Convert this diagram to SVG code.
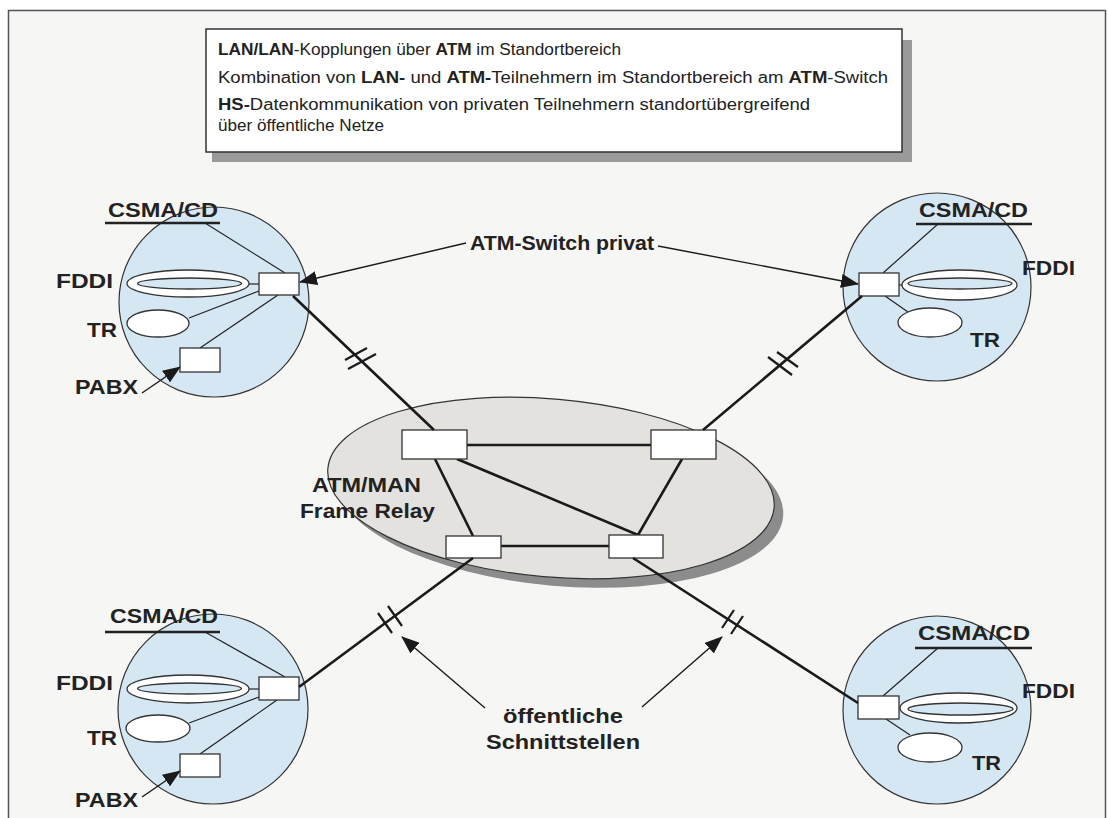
<svg xmlns="http://www.w3.org/2000/svg" width="1108" height="818" viewBox="0 0 1108 818">
<style>
.bg{fill:#f6f6f4}
.frame{fill:none;stroke:#555;stroke-width:1.5}
.site{fill:#d6e7f4;stroke:#333;stroke-width:1.2}
.thin{stroke:#222;stroke-width:1.2;fill:none}
.wbox{fill:#fff;stroke:#333;stroke-width:1.3}
.ringo{fill:#fff;stroke:#333;stroke-width:1.3}
.ringi{fill:#d6e7f4;stroke:#333;stroke-width:1.3}
.ul{stroke:#222;stroke-width:2.4}
.thick{stroke:#1a1a1a;stroke-width:2.6;fill:none}
.hash{stroke:#1a1a1a;stroke-width:2.2}
.arr{stroke:#1a1a1a;stroke-width:1.4;fill:none;marker-end:url(#ah)}
.lbl{font-family:"Liberation Sans",Arial,sans-serif;font-weight:bold;font-size:20px;fill:#222}
.box{font-family:"Liberation Sans",Arial,sans-serif;font-size:16px;fill:#222}
.b{font-weight:bold}
</style>
<defs>
<marker id="ah" markerUnits="userSpaceOnUse" markerWidth="18" markerHeight="14" viewBox="0 0 18 14" refX="17" refY="7" orient="auto">
<path d="M0,0 L18,7 L0,14 z" fill="#1a1a1a"/>
</marker>
</defs>
<rect x="0" y="0" width="1108" height="818" fill="#fff"/>
<rect class="bg" x="8" y="10" width="1098" height="830"/>
<rect class="frame" x="8.5" y="10.5" width="1097" height="830"/>

<g id="legend">
<rect x="212" y="40" width="700" height="122" fill="#9a9a9a"/>
<rect x="206" y="29" width="696" height="123" fill="#fff" stroke="#333" stroke-width="1.5"/>
<text class="box" x="218" y="54.5" textLength="403" lengthAdjust="spacingAndGlyphs"><tspan class="b">LAN/LAN</tspan>-Kopplungen über <tspan class="b">ATM</tspan> im Standortbereich</text>
<text class="box" x="218" y="82.5" textLength="670" lengthAdjust="spacingAndGlyphs">Kombination von <tspan class="b">LAN-</tspan> und <tspan class="b">ATM-</tspan>Teilnehmern im Standortbereich am <tspan class="b">ATM</tspan>-Switch</text>
<text class="box" x="218" y="110" textLength="592" lengthAdjust="spacingAndGlyphs"><tspan class="b">HS-</tspan>Datenkommunikation von privaten Teilnehmern standortübergreifend</text>
<text class="box" x="218" y="131" textLength="166" lengthAdjust="spacingAndGlyphs">über öffentliche Netze</text>
</g>

<g id="atm-man">
<ellipse cx="560" cy="497" rx="224" ry="89" fill="#8c8c8c" transform="rotate(5 560 497)"/>
<ellipse cx="551" cy="488" rx="224" ry="89" fill="#e4e2df" stroke="#333" stroke-width="1.2" transform="rotate(5 551 488)"/>
<text class="lbl" x="312" y="492" textLength="109" lengthAdjust="spacingAndGlyphs">ATM/MAN</text>
<text class="lbl" x="300" y="518" textLength="135" lengthAdjust="spacingAndGlyphs">Frame Relay</text>
<line class="thick" x1="467" y1="445" x2="651" y2="445"/>
<line class="thick" x1="501" y1="546" x2="609" y2="546"/>
<line class="thick" x1="435" y1="459" x2="473" y2="536"/>
<line class="thick" x1="457" y1="459" x2="638" y2="535"/>
<line class="thick" x1="682" y1="459" x2="638" y2="535"/>
<rect id="sw-a" class="wbox" x="402" y="430" width="65" height="29"/>
<rect id="sw-b" class="wbox" x="651" y="430" width="65" height="29"/>
<rect id="sw-c" class="wbox" x="446" y="536" width="55" height="22"/>
<rect id="sw-d" class="wbox" x="609" y="535" width="54" height="23"/>
</g>

<g id="site-tl">
<circle class="site" cx="214" cy="302" r="95"/>
<line class="ul" x1="105" y1="223" x2="220" y2="223"/>
<text class="lbl" x="108" y="217" textLength="110" lengthAdjust="spacingAndGlyphs">CSMA/CD</text>
<line class="thin" x1="205" y1="223" x2="285" y2="273"/>
<line class="thin" x1="249" y1="284" x2="259" y2="284"/>
<line class="thin" x1="189" y1="318" x2="259" y2="291"/>
<line class="thin" x1="200" y1="348" x2="278" y2="295"/>
<ellipse class="ringo" cx="188" cy="283.5" rx="61" ry="13.5"/>
<ellipse class="ringi" cx="189.5" cy="283.5" rx="52" ry="5.5"/>
<ellipse class="ringo" cx="158" cy="323.5" rx="31" ry="13.5"/>
<rect class="wbox" x="180" y="348" width="40" height="24"/>
<rect class="wbox" x="259" y="273" width="40" height="22"/>
<text class="lbl" x="56" y="288" textLength="57" lengthAdjust="spacingAndGlyphs">FDDI</text>
<text class="lbl" x="87" y="337" textLength="30" lengthAdjust="spacingAndGlyphs">TR</text>
<text class="lbl" x="75" y="394" textLength="63" lengthAdjust="spacingAndGlyphs">PABX</text>
</g>

<g id="site-tr">
<circle class="site" cx="937" cy="287" r="94"/>
<line class="ul" x1="916" y1="224" x2="1032" y2="224"/>
<text class="lbl" x="919" y="217" textLength="109" lengthAdjust="spacingAndGlyphs">CSMA/CD</text>
<line class="thin" x1="938" y1="224" x2="883" y2="273"/>
<line class="thin" x1="899" y1="285" x2="902" y2="285"/>
<line class="thin" x1="885" y1="296" x2="908" y2="312"/>
<ellipse class="ringo" cx="959.5" cy="285" rx="57.5" ry="15"/>
<ellipse class="ringi" cx="960" cy="283.5" rx="52" ry="5.5"/>
<ellipse class="ringo" cx="930" cy="322.5" rx="32" ry="14.5"/>
<rect class="wbox" x="859" y="273" width="40" height="23"/>
<text class="lbl" x="1022" y="275" textLength="53" lengthAdjust="spacingAndGlyphs">FDDI</text>
<text class="lbl" x="970" y="347" textLength="30" lengthAdjust="spacingAndGlyphs">TR</text>
</g>

<g id="site-bl">
<circle class="site" cx="213" cy="709" r="95"/>
<line class="ul" x1="105" y1="632" x2="220" y2="632"/>
<text class="lbl" x="110" y="623" textLength="108" lengthAdjust="spacingAndGlyphs">CSMA/CD</text>
<line class="thin" x1="205" y1="632" x2="285" y2="677"/>
<line class="thin" x1="249" y1="689" x2="259" y2="689"/>
<line class="thin" x1="189" y1="723" x2="259" y2="697"/>
<line class="thin" x1="200" y1="754" x2="277" y2="700"/>
<ellipse class="ringo" cx="188" cy="689" rx="61" ry="14"/>
<ellipse class="ringi" cx="189.5" cy="688.5" rx="52" ry="5.5"/>
<ellipse class="ringo" cx="158" cy="728.5" rx="32" ry="13.5"/>
<rect class="wbox" x="180" y="754" width="40" height="23"/>
<rect class="wbox" x="259" y="677" width="40" height="23"/>
<text class="lbl" x="56" y="690" textLength="57" lengthAdjust="spacingAndGlyphs">FDDI</text>
<text class="lbl" x="87" y="745" textLength="30" lengthAdjust="spacingAndGlyphs">TR</text>
<text class="lbl" x="75" y="807" textLength="63" lengthAdjust="spacingAndGlyphs">PABX</text>
</g>

<g id="site-br">
<circle class="site" cx="937" cy="710" r="94"/>
<line class="ul" x1="915" y1="648" x2="1032" y2="648"/>
<text class="lbl" x="918" y="640" textLength="112" lengthAdjust="spacingAndGlyphs">CSMA/CD</text>
<line class="thin" x1="938" y1="648" x2="883" y2="696"/>
<line class="thin" x1="899" y1="708" x2="900" y2="708"/>
<line class="thin" x1="886" y1="719" x2="910" y2="735"/>
<ellipse class="ringo" cx="958.5" cy="708" rx="58.5" ry="15"/>
<ellipse class="ringi" cx="960.5" cy="709" rx="52.5" ry="6"/>
<ellipse class="ringo" cx="930" cy="747.5" rx="32" ry="14.5"/>
<rect class="wbox" x="858" y="696" width="41" height="23"/>
<text class="lbl" x="1022" y="698" textLength="53" lengthAdjust="spacingAndGlyphs">FDDI</text>
<text class="lbl" x="972" y="770" textLength="29" lengthAdjust="spacingAndGlyphs">TR</text>
</g>

<g id="connectors">
<line class="thick" x1="293" y1="296" x2="434" y2="430"/>
<line class="hash" x1="345" y1="360" x2="367" y2="348"/>
<line class="hash" x1="348" y1="369" x2="376" y2="354"/>
<line class="thick" x1="862" y1="296" x2="703" y2="430"/>
<line class="hash" x1="768" y1="357" x2="792" y2="375"/>
<line class="hash" x1="777" y1="352" x2="798" y2="367"/>
<line class="thick" x1="473" y1="558" x2="299" y2="687"/>
<line class="hash" x1="378" y1="613" x2="392" y2="633"/>
<line class="hash" x1="388" y1="606" x2="402" y2="626"/>
<line class="thick" x1="633" y1="558" x2="858" y2="703"/>
<line class="hash" x1="722" y1="628" x2="734" y2="610"/>
<line class="hash" x1="731" y1="634" x2="743" y2="616"/>
<line class="arr" x1="466" y1="243" x2="300" y2="282"/>
<line class="arr" x1="658" y1="246" x2="858" y2="284"/>
<line class="arr" x1="142" y1="393" x2="180" y2="367"/>
<line class="arr" x1="142" y1="797" x2="180" y2="771"/>
<line class="arr" x1="485" y1="708" x2="402" y2="637"/>
<line class="arr" x1="642" y1="707" x2="722" y2="637"/>
</g>

<g id="labels">
<text class="lbl" x="470" y="250" textLength="184" lengthAdjust="spacingAndGlyphs">ATM-Switch privat</text>
<text class="lbl" x="503" y="723" textLength="120" lengthAdjust="spacingAndGlyphs">öffentliche</text>
<text class="lbl" x="486" y="749" textLength="154" lengthAdjust="spacingAndGlyphs">Schnittstellen</text>
</g>
</svg>
